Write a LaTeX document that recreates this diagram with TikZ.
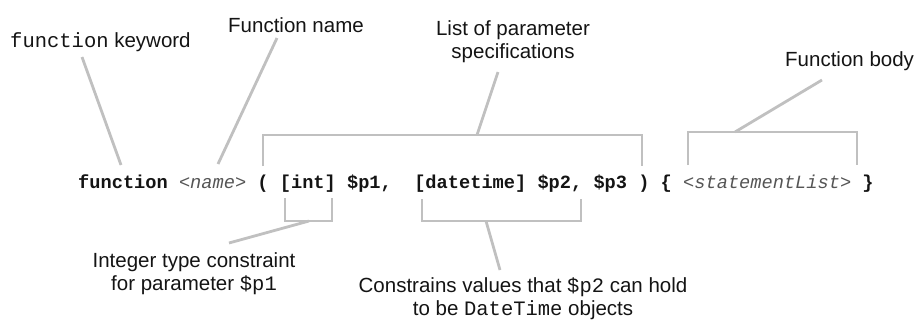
\documentclass[tikz,border=0pt]{standalone}
\usepackage{fontspec}
\setmainfont{Liberation Sans}
\setmonofont{Liberation Mono}
\usetikzlibrary{calc}
\definecolor{lead}{RGB}{192,192,192}
\definecolor{ink}{RGB}{20,20,20}
\definecolor{phc}{RGB}{85,85,85}
\tikzset{
  leader/.style={draw=lead, line width=2.8pt},
  lbl/.style={inner sep=0pt, text=ink, font=\fontsize{20.5}{23}\selectfont},
  codetext/.style={inner sep=0pt, text=ink, font=\fontsize{18.67}{20}\selectfont\ttfamily\bfseries},
}
\newcommand\phold[1]{{\color{phc}\mdseries\itshape #1}}
\begin{document}
\begin{tikzpicture}[x=1pt,y=-1pt]
\useasboundingbox (0,0) rectangle (923,322);
% labels
\node[lbl, anchor=base west] (kw) at (10,47) {\texttt{function} keyword};
\node[lbl, anchor=base west] (fname) at (228,32) {Function name};
\node[lbl, anchor=base, align=center] (plist) at (513,58) {List of parameter\\specifications};
\node[lbl, anchor=base west] (fbody) at (785,66) {Function body};
\node[lbl, anchor=base, align=center] (intc) at (194,290) {Integer type constraint\\for parameter \texttt{\$p1}};
\node[lbl, anchor=base, align=center] (dtc) at (523,315) {Constrains values that \texttt{\$p2} can hold\\to be \texttt{DateTime} objects};
% code line
\node[codetext, anchor=base west] (codeline) at (78,188) {function\ \phold{<name>}\ (\ [int]\ \$p1,\ \ [datetime]\ \$p2,\ \$p3\ )\ \{\ \phold{<statementList>}\ \}};
% coordinates
\coordinate (kwA) at (82,57);   \coordinate (kwB) at (121,165);
\coordinate (fnA) at (277,38);  \coordinate (fnB) at (218,164);
\coordinate (pa) at (263,166);  \coordinate (pb) at (263,135);
\coordinate (pc) at (642,135);  \coordinate (pd) at (642,166);
\coordinate (pm) at (477,135);  \coordinate (pt) at (498,72);
\coordinate (ba) at (688,165);  \coordinate (bb) at (688,132);
\coordinate (bc) at (857,132);  \coordinate (bd) at (857,165);
\coordinate (bm) at (735,132);  \coordinate (bt) at (822,80);
\coordinate (ia) at (285,198);  \coordinate (ib) at (285,221);
\coordinate (ic) at (332,221);  \coordinate (id) at (332,198);
\coordinate (im) at (309,221);  \coordinate (it) at (229,243);
\coordinate (da) at (422,199);  \coordinate (db) at (422,221);
\coordinate (dc) at (581,221);  \coordinate (dd) at (581,199);
\coordinate (dm) at (486,221);  \coordinate (dt) at (500,270);
% connectors
\draw[leader] (kwA) -- (kwB);
\draw[leader] (fnA) -- (fnB);
\draw[leader] (pa) -- (pb) -- (pc) -- (pd);
\draw[leader] (pm) -- (pt);
\draw[leader] (ba) -- (bb) -- (bc) -- (bd);
\draw[leader] (bm) -- (bt);
\draw[leader] (ia) -- (ib) -- (ic) -- (id);
\draw[leader] (im) -- (it);
\draw[leader] (da) -- (db) -- (dc) -- (dd);
\draw[leader] (dm) -- (dt);
\end{tikzpicture}
\end{document}
